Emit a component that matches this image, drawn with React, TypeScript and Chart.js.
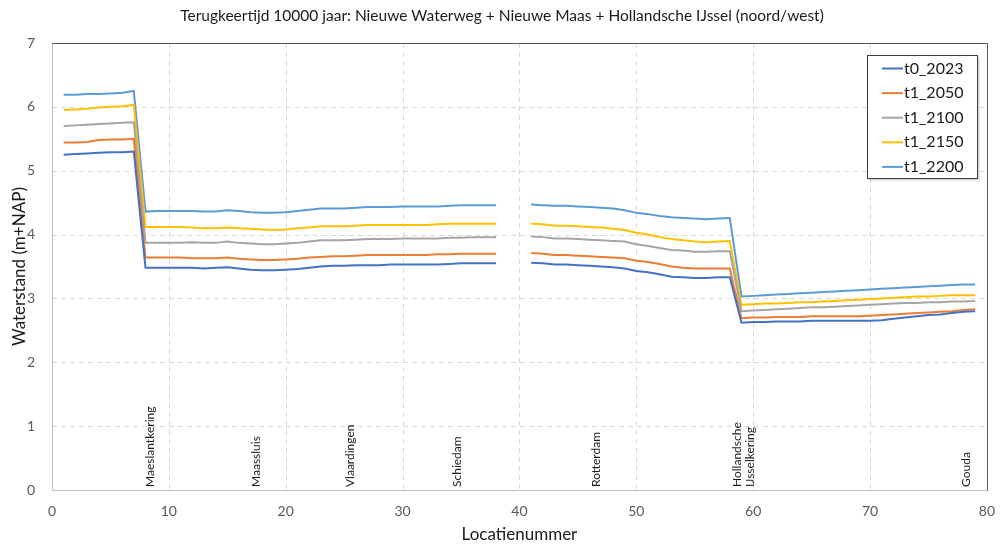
import React, { useEffect, useRef } from "react";
import { Chart, registerables } from "chart.js";

Chart.register(...registerables);

const TITLE = "Terugkeertijd 10000 jaar: Nieuwe Waterweg + Nieuwe Maas + Hollandsche IJssel (noord/west)";

const t0_2023 = [
  5.25, 5.26, 5.27, 5.28, 5.29, 5.29, 5.30,
  3.48, 3.48, 3.48, 3.48, 3.48, 3.47, 3.48, 3.49, 3.47, 3.45, 3.44, 3.44, 3.45,
  3.46, 3.48, 3.50, 3.51, 3.51, 3.52, 3.52, 3.52, 3.53, 3.53, 3.53, 3.53, 3.53, 3.54, 3.55, 3.55, 3.55, 3.55,
  null, null,
  3.56, 3.55, 3.53, 3.53, 3.52, 3.51, 3.50, 3.49, 3.47, 3.43, 3.41, 3.38, 3.34, 3.33, 3.32, 3.32, 3.33, 3.33,
  2.62, 2.63, 2.63, 2.64, 2.64, 2.64, 2.65, 2.65, 2.65, 2.65, 2.65, 2.65, 2.66, 2.68, 2.70, 2.72, 2.74, 2.75, 2.77, 2.79, 2.80,
];
const t1_2050 = [
  5.44, 5.44, 5.45, 5.48, 5.49, 5.49, 5.50,
  3.64, 3.64, 3.64, 3.64, 3.63, 3.63, 3.63, 3.64, 3.62, 3.61, 3.60, 3.60, 3.61,
  3.62, 3.64, 3.65, 3.66, 3.66, 3.67, 3.68, 3.68, 3.68, 3.68, 3.68, 3.68, 3.69, 3.69, 3.70, 3.70, 3.70, 3.70,
  null, null,
  3.71, 3.70, 3.68, 3.68, 3.67, 3.66, 3.65, 3.64, 3.63, 3.59, 3.57, 3.54, 3.50, 3.48, 3.47, 3.47, 3.47, 3.47,
  2.69, 2.70, 2.70, 2.71, 2.71, 2.71, 2.72, 2.72, 2.72, 2.72, 2.72, 2.73, 2.74, 2.75, 2.76, 2.77, 2.78, 2.79, 2.80, 2.82, 2.83,
];
const t1_2100 = [
  5.70, 5.71, 5.72, 5.73, 5.74, 5.75, 5.76,
  3.87, 3.87, 3.87, 3.87, 3.88, 3.87, 3.87, 3.89, 3.87, 3.86, 3.85, 3.85, 3.86,
  3.87, 3.89, 3.91, 3.91, 3.91, 3.92, 3.93, 3.93, 3.93, 3.94, 3.94, 3.94, 3.94, 3.95, 3.95, 3.96, 3.96, 3.96,
  null, null,
  3.97, 3.96, 3.94, 3.94, 3.93, 3.92, 3.91, 3.90, 3.89, 3.85, 3.82, 3.79, 3.76, 3.75, 3.73, 3.73, 3.74, 3.74,
  2.80, 2.81, 2.82, 2.83, 2.84, 2.85, 2.86, 2.86, 2.87, 2.88, 2.89, 2.90, 2.91, 2.92, 2.93, 2.93, 2.94, 2.94, 2.95, 2.95, 2.96,
];
const t1_2150 = [
  5.95, 5.96, 5.97, 5.99, 6.00, 6.01, 6.03,
  4.12, 4.12, 4.12, 4.12, 4.11, 4.10, 4.10, 4.11, 4.10, 4.09, 4.08, 4.07, 4.08,
  4.10, 4.11, 4.13, 4.13, 4.13, 4.14, 4.15, 4.15, 4.15, 4.15, 4.15, 4.15, 4.16, 4.17, 4.17, 4.17, 4.17, 4.17,
  null, null,
  4.17, 4.16, 4.14, 4.14, 4.13, 4.12, 4.11, 4.09, 4.07, 4.03, 4.00, 3.96, 3.93, 3.91, 3.89, 3.88, 3.89, 3.90,
  2.90, 2.91, 2.92, 2.92, 2.93, 2.94, 2.94, 2.95, 2.96, 2.97, 2.98, 2.99, 3.00, 3.01, 3.02, 3.03, 3.03, 3.04, 3.05, 3.05, 3.05,
];
const t1_2200 = [
  6.19, 6.19, 6.20, 6.20, 6.21, 6.22, 6.25,
  4.36, 4.37, 4.37, 4.37, 4.37, 4.36, 4.36, 4.38, 4.37, 4.35, 4.34, 4.34, 4.35,
  4.37, 4.39, 4.41, 4.41, 4.41, 4.42, 4.43, 4.43, 4.43, 4.44, 4.44, 4.44, 4.44, 4.45, 4.46, 4.46, 4.46, 4.46,
  null, null,
  4.47, 4.46, 4.45, 4.45, 4.44, 4.43, 4.42, 4.41, 4.38, 4.34, 4.32, 4.29, 4.27, 4.26, 4.25, 4.24, 4.25, 4.26,
  3.03, 3.04, 3.05, 3.06, 3.07, 3.08, 3.09, 3.10, 3.11, 3.12, 3.13, 3.14, 3.15, 3.16, 3.17, 3.18, 3.19, 3.20, 3.21, 3.22, 3.22,
];

const seriesNames = ["t0_2023", "t1_2050", "t1_2100", "t1_2150", "t1_2200"];
const seriesValues = [t0_2023, t1_2050, t1_2100, t1_2150, t1_2200];
const seriesColors = ["#4472C4", "#ED7D31", "#A5A5A5", "#FFC000", "#5B9BD5"];

const xTicks = [0, 10, 20, 30, 40, 50, 60, 70, 80];
const yTicks = [0, 1, 2, 3, 4, 5, 6, 7];

const placeNames = ["Maeslantkering", "Maassluis", "Vlaardingen", "Schiedam", "Rotterdam", "Hollandsche\nIJsselkering", "Gouda"];
const placePositions = [8.4, 17.5, 25.5, 34.7, 46.6, 59.2, 78.2];

const FONT = "Lato, 'Open Sans', sans-serif";

const framePlugin = {
  id: "frame",
  beforeDraw(chart: any) {
    const { ctx, width } = chart;
    ctx.save();
    ctx.fillStyle = "#ffffff";
    ctx.fillRect(0, 0, chart.width, chart.height);
    ctx.fillStyle = "#1a1a1a";
    ctx.font = `15.5px ${FONT}`;
    ctx.textAlign = "center";
    ctx.textBaseline = "middle";
    ctx.fillText(TITLE, width / 2 + 2, 16);
    ctx.restore();
  },
  beforeDatasetsDraw(chart: any) {
    const { ctx, chartArea: a, scales } = chart;
    ctx.save();
    ctx.strokeStyle = "#d9d9d9";
    ctx.lineWidth = 1;
    ctx.setLineDash([5, 4]);
    xTicks.forEach((v) => {
      if (v === 0 || v === 80) return;
      const px = Math.round(scales.x.getPixelForValue(v)) + 0.5;
      ctx.beginPath();
      ctx.moveTo(px, a.top);
      ctx.lineTo(px, a.bottom);
      ctx.stroke();
    });
    yTicks.forEach((v) => {
      if (v === 0 || v === 7) return;
      const py = Math.round(scales.y.getPixelForValue(v)) + 0.5;
      ctx.beginPath();
      ctx.moveTo(a.left, py);
      ctx.lineTo(a.right, py);
      ctx.stroke();
    });
    ctx.setLineDash([]);
    ctx.strokeStyle = "#bfbfbf";
    ctx.beginPath();
    ctx.moveTo(Math.round(a.left) + 0.5, a.top);
    ctx.lineTo(Math.round(a.left) + 0.5, Math.round(a.bottom) + 0.5);
    ctx.lineTo(a.right, Math.round(a.bottom) + 0.5);
    ctx.stroke();
    ctx.restore();
  },
  afterDraw(chart: any) {
    const { ctx, chartArea: a, scales } = chart;
    ctx.save();
    ctx.strokeStyle = "#595959";
    ctx.lineWidth = 1;
    ctx.beginPath();
    ctx.moveTo(a.left, Math.round(a.top) + 0.5);
    ctx.lineTo(Math.round(a.right) + 0.5, Math.round(a.top) + 0.5);
    ctx.lineTo(Math.round(a.right) + 0.5, Math.round(a.bottom) + 1);
    ctx.stroke();

    ctx.fillStyle = "#1a1a1a";
    ctx.font = `12px ${FONT}`;
    ctx.textAlign = "left";
    ctx.textBaseline = "middle";
    placeNames.forEach((name, i) => {
      const px = scales.x.getPixelForValue(placePositions[i]);
      const lines = name.split("\n");
      const lh = 13.5;
      lines.forEach((ln, j) => {
        const off = (j - (lines.length - 1) / 2) * lh;
        ctx.save();
        ctx.translate(px + off, a.bottom - 3);
        ctx.rotate(-Math.PI / 2);
        ctx.fillText(ln, 0, 0);
        ctx.restore();
      });
    });

    const bx = 867, by = 55, bw = 110, bh = 123;
    ctx.fillStyle = "#ffffff";
    ctx.shadowColor = "rgba(0,0,0,0.25)";
    ctx.shadowBlur = 2;
    ctx.shadowOffsetX = 2;
    ctx.shadowOffsetY = 2;
    ctx.fillRect(bx, by, bw, bh);
    ctx.shadowColor = "transparent";
    ctx.strokeStyle = "#404040";
    ctx.lineWidth = 1;
    ctx.strokeRect(bx + 0.5, by + 0.5, bw, bh);
    ctx.font = `16px ${FONT}`;
    ctx.textAlign = "left";
    ctx.textBaseline = "middle";
    seriesNames.forEach((name, i) => {
      const y = 68.5 + i * 24.6;
      ctx.strokeStyle = seriesColors[i];
      ctx.lineWidth = 2;
      ctx.beginPath();
      ctx.moveTo(882, y);
      ctx.lineTo(903, y);
      ctx.stroke();
      ctx.fillStyle = "#1a1a1a";
      ctx.fillText(name, 904, y);
    });
    ctx.restore();
  },
};

export default function App() {
  const ref = useRef<HTMLCanvasElement | null>(null);
  useEffect(() => {
    document.body.style.margin = "0";
    const canvas = ref.current!;
    const chart = new Chart(canvas, {
      type: "line",
      data: {
        datasets: seriesValues.map((vals, i) => ({
          label: seriesNames[i],
          data: vals.map((v, k) => ({ x: k + 1, y: v })),
          borderColor: seriesColors[i],
          backgroundColor: seriesColors[i],
          borderWidth: 2,
          pointRadius: 0,
          tension: 0,
          spanGaps: false,
        })),
      },
      options: {
        animation: false,
        responsive: false,
        layout: { padding: { left: 0, right: 12, top: 43, bottom: 0 } },
        plugins: {
          legend: { display: false },
          title: { display: false },
          tooltip: { enabled: false },
        },
        scales: {
          x: {
            type: "linear",
            min: 0,
            max: 80,
            afterFit(scale: any) {
              scale.height = 55;
            },
            afterBuildTicks(scale: any) {
              scale.ticks = xTicks.map((v) => ({ value: v }));
            },
            ticks: {
              color: "#595959",
              font: { family: FONT, size: 14 },
              padding: 5,
            },
            grid: { display: false },
            border: { display: false },
            title: {
              display: true,
              text: "Locatienummer",
              color: "#1a1a1a",
              font: { family: FONT, size: 17 },
              padding: { top: 0, bottom: 0 },
            },
          },
          y: {
            min: 0,
            max: 7,
            afterFit(scale: any) {
              scale.width = 52;
            },
            afterBuildTicks(scale: any) {
              scale.ticks = yTicks.map((v) => ({ value: v }));
            },
            ticks: {
              color: "#595959",
              font: { family: FONT, size: 14 },
              padding: 9,
            },
            grid: { display: false },
            border: { display: false },
            title: {
              display: true,
              text: "Waterstand (m+NAP)",
              color: "#1a1a1a",
              font: { family: FONT, size: 17 },
              padding: { top: 9, bottom: 0 },
            },
          },
        },
      } as any,
      plugins: [framePlugin],
    });
    return () => chart.destroy();
  }, []);
  return (
    <div style={{ position: "absolute", left: 0, top: 0, width: 1000, height: 545 }}>
      <canvas ref={ref} width={1000} height={545} style={{ width: 1000, height: 545, display: "block" }} />
    </div>
  );
}
